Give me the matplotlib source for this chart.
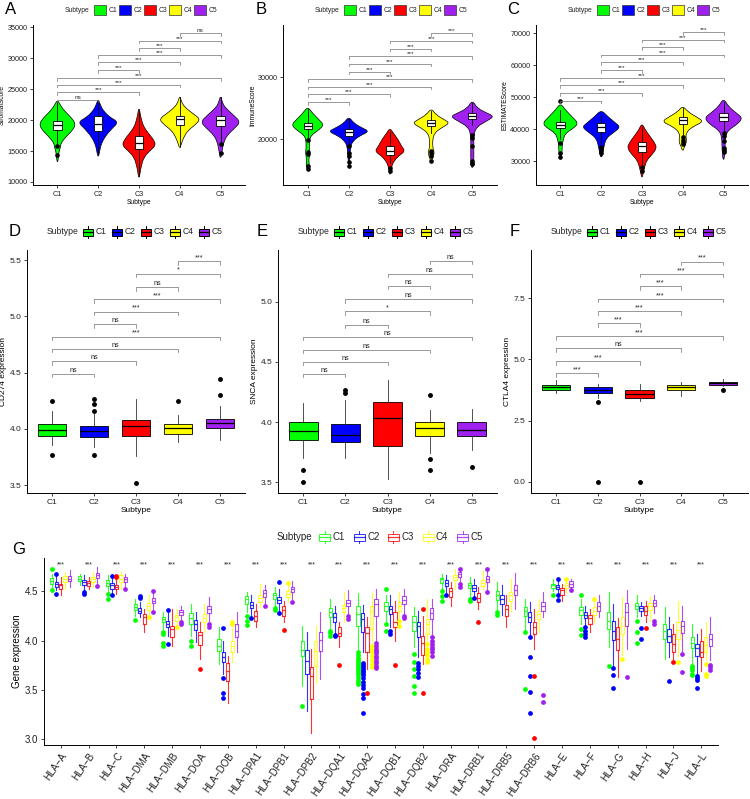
import numpy as np
import matplotlib.pyplot as plt
from matplotlib.patches import Rectangle, PathPatch
from matplotlib.path import Path
from matplotlib.lines import Line2D
from matplotlib.colors import to_rgba

plt.rcParams['font.family'] = ['Liberation Sans', 'DejaVu Sans']

subtypes = ['C1', 'C2', 'C3', 'C4', 'C5']
colors = ['#00FF00', '#0000FF', '#FF0000', '#FFFF00', '#A020F0']
pairs = [(1, 2), (1, 3), (1, 4), (1, 5), (2, 3), (2, 4), (2, 5), (3, 4), (3, 5), (4, 5)]

# ---------- A: StromalScore (violin) ----------
A_vy = [[12960, 14000, 14600, 15200, 15700, 16200, 17260, 18330, 19400, 20480, 21560, 22500, 23300],
        [14030, 14570, 15500, 16180, 17260, 18600, 19680, 20480, 21560, 22500, 23440],
        [10540, 11350, 12420, 14030, 15110, 15900, 16720, 17800, 18870, 19950, 21000, 22100],
        [15380, 16180, 17260, 18330, 19400, 20200, 21020, 22100, 23000, 23980],
        [13500, 15110, 16450, 17530, 18600, 19680, 20750, 22100, 23000, 23980]]
A_vw = [[0, .024, .033, .05, .08, .08, .2, .37, .45, .33, .16, .065, 0],
        [0, .025, .05, .08, .16, .33, .5, .28, .12, .05, 0],
        [0, .025, .05, .12, .28, .41, .37, .24, .12, .065, .03, 0],
        [0, .04, .1, .2, .41, .5, .33, .12, .04, 0],
        [0, .04, .08, .16, .33, .49, .33, .1, .04, 0]]
A_q1 = [18330, 18170, 15380, 19140, 18980]
A_med = [19250, 19410, 16290, 20150, 19950]
A_q3 = [19830, 20750, 17360, 20750, 20750]
A_lo = [16100, 14500, 11000, 15700, 16500]
A_hi = [22900, 23200, 21500, 23700, 23700]
A_out = [[15800, 14300], [], [], [], [16200, 14700]]
A_sig_y = [23280, 24520, 25700, 26830, 28120, 29360, 30540, 31670, 32850, 34090]
A_sig = ['ns', '***', '***', '***', '***', '***', '***', '***', '***', 'ns']

# ---------- B: ImmuneScore ----------
B_vy = [[14840, 15640, 16700, 17770, 18300, 19890, 20690, 21490, 22290, 23090, 24150, 25210],
        [15370, 17230, 18830, 19630, 20430, 21220, 21760, 22550, 23620],
        [13780, 15640, 16430, 17230, 18030, 18830, 19890, 20960, 21760],
        [16170, 17230, 17770, 18500, 19890, 20960, 21760, 22550, 23090, 23880, 24950],
        [15110, 16170, 18830, 20960, 22020, 22820, 23620, 24150, 24950, 26280]]
B_vw = [[0, .04, .025, .055, .04, .04, .1, .28, .39, .28, .12, 0],
        [0, .025, .04, .1, .24, .5, .33, .12, 0],
        [0, .04, .1, .2, .37, .28, .2, .08, 0],
        [0, .05, .08, .04, .035, .08, .24, .45, .33, .12, 0],
        [0, .04, .035, .04, .12, .33, .53, .37, .12, 0]]
B_q1 = [21600, 20530, 17500, 22020, 23240]
B_med = [22130, 21060, 18140, 22550, 23780]
B_q3 = [22660, 21600, 18830, 23090, 24260]
B_lo = [20200, 19300, 16200, 21000, 22200]
B_hi = [24800, 23300, 21200, 24500, 25800]
B_out = [[19800, 17900, 17600, 15600, 15200], [18800, 17700, 17300, 16300, 15700],
         [15400, 14900], [18000, 17700, 17200, 16400], [20700, 20200, 18800, 16400, 16200, 15900]]
B_sig_y = [25900, 27180, 28400, 29630, 30850, 32130, 33350, 34570, 35850, 37070]
B_sig = ['***'] * 10

# ---------- C: ESTIMATEScore ----------
C_vy = [[29790, 32400, 34490, 36580, 38670, 40230, 41800, 43890, 45980, 48070],
        [30830, 32400, 34490, 37100, 38670, 40550, 41800, 43890, 45980],
        [24570, 26140, 28220, 30310, 31880, 33970, 35530, 37620, 39710, 41800],
        [32920, 34490, 36060, 38670, 40750, 42320, 43890, 45460, 47230],
        [29270, 33440, 37620, 39710, 41280, 43370, 44930, 47020, 49630]]
C_vw = [[0, .04, .04, .065, .12, .32, .44, .28, .12, 0],
        [0, .04, .065, .12, .28, .47, .36, .16, 0],
        [0, .03, .065, .12, .24, .36, .32, .2, .08, 0],
        [0, .04, .1, .065, .24, .52, .32, .12, 0],
        [0, .04, .04, .12, .32, .47, .32, .12, 0]]
C_q1 = [40230, 39200, 32920, 41590, 42640]
C_med = [41280, 40550, 34700, 42840, 43680]
C_q3 = [42320, 42010, 36060, 43890, 44930]
C_lo = [37000, 35500, 29000, 38000, 39500]
C_hi = [46000, 44500, 40500, 46500, 48500]
C_out = [[48600, 35500, 32400, 31400], [34500, 33400, 32400], [28200, 27000],
         [37600, 36500, 35800, 35300], [38900, 37900, 36300, 34200, 33400, 32900]]
C_sig_y = [48800, 51200, 53600, 55900, 58410, 60810, 63210, 65610, 67910, 70310]
C_sig = ['***'] * 10

# ---------- D: CD274 ----------
D_q1 = [3.935, 3.929, 3.935, 3.958, 4.009]
D_med = [3.994, 3.982, 4.024, 4.009, 4.053]
D_q3 = [4.047, 4.024, 4.083, 4.047, 4.092]
D_lo = [3.86, 3.84, 3.76, 3.88, 3.905]
D_hi = [4.16, 4.13, 4.27, 4.12, 4.2]
D_out = [[4.25, 3.77], [4.264, 4.219, 4.157, 3.77], [3.52], [4.25], [4.44, 4.30]]
D_sig_y = [4.49, 4.60, 4.71, 4.82, 4.93, 5.04, 5.15, 5.26, 5.38, 5.49]
D_sig = ['ns', 'ns', 'ns', '***', 'ns', '***', '***', 'ns', '*', '***']

# ---------- E: SNCA ----------
E_q1 = [3.85, 3.838, 3.797, 3.886, 3.88]
E_med = [3.922, 3.894, 4.036, 3.947, 3.933]
E_q3 = [3.997, 3.983, 4.167, 4.0, 3.997]
E_lo = [3.70, 3.70, 3.53, 3.74, 3.77]
E_hi = [4.16, 4.18, 4.35, 4.10, 4.11]
E_out = [[3.6, 3.5], [4.27, 4.24], [], [4.226, 3.69, 3.6], [3.63]]
E_sig_y = [4.40, 4.50, 4.60, 4.71, 4.81, 4.92, 5.02, 5.13, 5.23, 5.34]
E_sig = ['ns', 'ns', 'ns', 'ns', 'ns', '*', 'ns', 'ns', 'ns', 'ns']

# ---------- F: CTLA4 ----------
F_q1 = [3.76, 3.63, 3.42, 3.74, 3.97]
F_med = [3.87, 3.76, 3.6, 3.86, 4.04]
F_q3 = [3.97, 3.87, 3.74, 3.97, 4.1]
F_lo = [3.63, 3.42, 3.29, 3.52, 3.9]
F_hi = [4.17, 4.01, 4.01, 4.1, 4.2]
F_out = [[], [3.25, 0.0], [0.0], [], [3.76]]
F_sig_y = [4.44, 4.93, 5.45, 5.95, 6.47, 6.97, 7.47, 7.99, 8.49, 9.0]
F_sig = ['***', '***', 'ns', '***', '***', '***', '***', '***', '***', '***']

# ---------- G: HLA genes ----------
genes = ['HLA-A', 'HLA-B', 'HLA-C', 'HLA-DMA', 'HLA-DMB', 'HLA-DOA', 'HLA-DOB', 'HLA-DPA1',
         'HLA-DPB1', 'HLA-DPB2', 'HLA-DQA1', 'HLA-DQA2', 'HLA-DQB1', 'HLA-DQB2', 'HLA-DRA',
         'HLA-DRB1', 'HLA-DRB5', 'HLA-DRB6', 'HLA-E', 'HLA-F', 'HLA-G', 'HLA-H', 'HLA-J', 'HLA-L']
g_sig = ['***'] * 24
g_q1 = [[4.578, 4.544, 4.520, 4.595, 4.602], [4.602, 4.568, 4.554, 4.595, 4.636],
        [4.554, 4.527, 4.520, 4.595, 4.595], [4.316, 4.279, 4.170, 4.316, 4.381],
        [4.187, 4.143, 4.034, 4.204, 4.262], [4.170, 4.112, 3.956, 4.187, 4.282],
        [3.898, 3.779, 3.592, 3.881, 4.034], [4.374, 4.333, 4.204, 4.391, 4.442],
        [4.425, 4.384, 4.255, 4.442, 4.493], [3.847, 3.660, 3.405, 3.745, 3.898],
        [4.238, 4.194, 4.051, 4.289, 4.357], [4.153, 4.085, 3.881, 4.119, 4.255],
        [4.306, 4.272, 4.136, 4.306, 4.374], [4.102, 4.034, 3.854, 4.068, 4.221],
        [4.588, 4.554, 4.442, 4.612, 4.646], [4.534, 4.507, 4.391, 4.554, 4.595],
        [4.418, 4.374, 4.255, 4.408, 4.466], [4.255, 4.187, 4.068, 4.221, 4.306],
        [4.534, 4.520, 4.466, 4.534, 4.544], [4.262, 4.228, 4.170, 4.262, 4.306],
        [4.119, 4.010, 3.908, 4.068, 4.153], [4.323, 4.306, 4.262, 4.316, 4.350],
        [4.017, 3.990, 3.888, 4.017, 4.078], [3.922, 3.847, 3.830, 3.881, 3.949]]
g_med = [[4.609, 4.575, 4.561, 4.629, 4.629], [4.629, 4.595, 4.582, 4.622, 4.663],
         [4.585, 4.561, 4.544, 4.629, 4.622], [4.347, 4.306, 4.238, 4.350, 4.408],
         [4.221, 4.170, 4.119, 4.238, 4.289], [4.228, 4.170, 4.058, 4.228, 4.323],
         [3.949, 3.830, 3.694, 3.949, 4.102], [4.425, 4.364, 4.255, 4.432, 4.486],
         [4.459, 4.418, 4.316, 4.476, 4.527], [3.908, 3.796, 3.636, 3.898, 4.010],
         [4.289, 4.238, 4.078, 4.330, 4.384], [4.272, 4.221, 4.078, 4.306, 4.374],
         [4.357, 4.323, 4.187, 4.357, 4.418], [4.194, 4.146, 3.976, 4.170, 4.282],
         [4.622, 4.585, 4.500, 4.646, 4.673], [4.568, 4.534, 4.432, 4.588, 4.622],
         [4.459, 4.425, 4.323, 4.459, 4.510], [4.306, 4.238, 4.136, 4.272, 4.357],
         [4.561, 4.544, 4.510, 4.561, 4.578], [4.313, 4.262, 4.228, 4.306, 4.357],
         [4.204, 4.102, 4.017, 4.153, 4.289], [4.357, 4.333, 4.306, 4.357, 4.384],
         [4.102, 4.051, 3.966, 4.112, 4.153], [3.976, 3.922, 3.888, 3.956, 4.017]]
g_q3 = [[4.636, 4.595, 4.578, 4.657, 4.657], [4.653, 4.616, 4.602, 4.646, 4.690],
        [4.612, 4.585, 4.568, 4.663, 4.646], [4.374, 4.330, 4.272, 4.381, 4.432],
        [4.245, 4.197, 4.153, 4.262, 4.313], [4.282, 4.211, 4.092, 4.272, 4.350],
        [4.017, 3.881, 3.772, 4.000, 4.170], [4.452, 4.398, 4.306, 4.459, 4.517],
        [4.483, 4.442, 4.350, 4.500, 4.544], [4.000, 3.908, 3.728, 4.000, 4.092],
        [4.333, 4.282, 4.136, 4.364, 4.415], [4.350, 4.282, 4.136, 4.357, 4.425],
        [4.391, 4.357, 4.289, 4.391, 4.452], [4.255, 4.187, 4.051, 4.221, 4.330],
        [4.636, 4.612, 4.534, 4.670, 4.697], [4.588, 4.561, 4.486, 4.612, 4.656],
        [4.500, 4.466, 4.364, 4.493, 4.561], [4.340, 4.289, 4.187, 4.306, 4.391],
        [4.578, 4.561, 4.534, 4.588, 4.602], [4.340, 4.289, 4.262, 4.340, 4.391],
        [4.289, 4.204, 4.136, 4.238, 4.384], [4.384, 4.357, 4.350, 4.384, 4.418],
        [4.170, 4.119, 4.068, 4.187, 4.204], [4.034, 3.966, 4.000, 4.034, 4.068]]
g_lo = [[4.530, 4.510, 4.466, 4.527, 4.544], [4.561, 4.510, 4.527, 4.544, 4.580],
        [4.490, 4.476, 4.476, 4.527, 4.544], [4.255, 4.238, 4.085, 4.270, 4.320],
        [4.120, 4.050, 3.949, 4.150, 4.210], [4.051, 3.983, 3.813, 4.085, 4.200],
        [3.762, 3.660, 3.371, 3.779, 3.881], [4.290, 4.240, 4.136, 4.340, 4.360],
        [4.350, 4.300, 4.187, 4.391, 4.425], [3.541, 3.286, 3.065, 3.575, 3.609],
        [4.119, 4.068, 3.932, 4.187, 4.270], [3.900, 3.881, 3.711, 3.980, 4.000],
        [4.187, 4.140, 4.000, 4.220, 4.270], [3.932, 3.830, 3.762, 3.980, 4.050],
        [4.510, 4.480, 4.354, 4.527, 4.600], [4.440, 4.440, 4.323, 4.527, 4.510],
        [4.310, 4.262, 4.136, 4.306, 4.323], [4.100, 4.050, 3.920, 4.085, 4.238],
        [4.500, 4.470, 4.408, 4.490, 4.520], [4.170, 4.150, 4.085, 4.187, 4.238],
        [3.932, 3.745, 3.626, 3.850, 3.915], [4.238, 4.255, 4.187, 4.204, 4.280],
        [3.813, 3.830, 3.813, 3.847, 3.900], [3.762, 3.660, 3.694, 3.800, 3.800]]
g_hi = [[4.680, 4.663, 4.646, 4.697, 4.714], [4.680, 4.663, 4.646, 4.697, 4.748],
        [4.663, 4.640, 4.630, 4.697, 4.680], [4.425, 4.391, 4.323, 4.459, 4.480],
        [4.289, 4.300, 4.323, 4.323, 4.350], [4.374, 4.289, 4.187, 4.374, 4.442],
        [4.136, 4.000, 3.847, 4.150, 4.289], [4.493, 4.459, 4.374, 4.578, 4.568],
        [4.544, 4.527, 4.408, 4.570, 4.602], [4.153, 4.085, 3.915, 4.153, 4.289],
        [4.425, 4.357, 4.187, 4.493, 4.510], [4.483, 4.364, 4.238, 4.483, 4.527],
        [4.459, 4.459, 4.408, 4.493, 4.527], [4.340, 4.300, 4.250, 4.425, 4.425],
        [4.680, 4.663, 4.595, 4.731, 4.720], [4.646, 4.622, 4.544, 4.714, 4.714],
        [4.595, 4.561, 4.459, 4.629, 4.687], [4.425, 4.391, 4.323, 4.425, 4.493],
        [4.629, 4.610, 4.578, 4.610, 4.629], [4.425, 4.357, 4.323, 4.400, 4.459],
        [4.493, 4.374, 4.228, 4.442, 4.510], [4.459, 4.398, 4.408, 4.452, 4.466],
        [4.340, 4.238, 4.170, 4.408, 4.350], [4.170, 4.068, 4.119, 4.187, 4.238]]
# (gene, subtype index, outlier values)
g_outliers = [
    ('HLA-A', 0, [4.731, 4.517]), ('HLA-A', 1, [4.68, 4.476]),
    ('HLA-B', 1, [4.49, 4.476]), ('HLA-B', 4, [4.56]),
    ('HLA-C', 0, [4.476, 4.425]), ('HLA-C', 1, [4.66, 4.459]), ('HLA-C', 2, [4.656, 4.646]), ('HLA-C', 4, [4.527]),
    ('HLA-DMA', 0, [4.214]), ('HLA-DMA', 1, [4.452, 4.432]), ('HLA-DMA', 3, [4.245]), ('HLA-DMA', 4, [4.50, 4.289]),
    ('HLA-DMB', 0, [4.092, 4.068, 3.976, 3.949]), ('HLA-DMB', 1, [4.316, 3.966]), ('HLA-DMB', 3, [4.136]),
    ('HLA-DMB', 4, [4.194, 4.17]),
    ('HLA-DOA', 0, [4.0, 3.949]), ('HLA-DOA', 2, [3.711]), ('HLA-DOA', 4, [4.17, 4.136]),
    ('HLA-DOB', 1, [4.126, 3.616, 3.473, 3.422]), ('HLA-DOB', 3, [4.194, 4.17]),
    ('HLA-DPA1', 0, [4.255, 4.204, 4.16]), ('HLA-DPA1', 1, [4.228]), ('HLA-DPA1', 4, [4.35]),
    ('HLA-DPB1', 0, [4.333, 4.313]), ('HLA-DPB1', 1, [4.595, 4.282]), ('HLA-DPB1', 2, [4.112]),
    ('HLA-DPB1', 3, [4.59]), ('HLA-DPB1', 4, [4.391]),
    ('HLA-DPB2', 0, [3.337]),
    ('HLA-DQA1', 0, [4.10, 4.078, 4.051]), ('HLA-DQA1', 1, [4.058, 4.044]), ('HLA-DQA1', 2, [3.752]),
    ('HLA-DQA1', 4, [4.255, 4.221]),
    ('HLA-DQA2', 0, [3.88, 3.85, 3.82, 3.80, 3.78, 3.76, 3.74, 3.72, 3.70, 3.68, 3.66, 3.63, 3.60, 3.58, 3.56]),
    ('HLA-DQA2', 1, [3.77, 3.75, 3.73, 3.71, 3.69, 3.67, 3.65, 3.62, 3.58, 3.55, 3.52, 3.46, 3.42, 3.27]),
    ('HLA-DQA2', 2, [3.473]),
    ('HLA-DQA2', 3, [3.95, 3.92, 3.88, 3.84, 3.80, 3.76, 3.73]),
    ('HLA-DQA2', 4, [3.98, 3.95, 3.92, 3.90, 3.87, 3.84, 3.82, 3.79, 3.77, 3.74, 3.72]),
    ('HLA-DQB1', 0, [4.527, 4.17, 4.10]), ('HLA-DQB1', 1, [4.10, 4.07]), ('HLA-DQB1', 2, [3.752]),
    ('HLA-DQB1', 3, [4.20, 4.15]), ('HLA-DQB1', 4, [4.255, 4.228]),
    ('HLA-DQB2', 0, [3.86, 3.78, 3.71, 3.643, 3.541, 3.473]), ('HLA-DQB2', 1, [3.772, 3.745, 3.711, 3.67, 3.626]),
    ('HLA-DQB2', 2, [4.323, 3.466]), ('HLA-DQB2', 3, [3.966, 3.92, 3.88, 3.85, 3.81, 3.78]),
    ('HLA-DQB2', 4, [4.034, 4.0, 3.97, 3.94, 3.92, 3.88, 3.847]),
    ('HLA-DRA', 0, [4.5, 4.452, 4.408]), ('HLA-DRA', 1, [4.466]), ('HLA-DRA', 4, [4.731, 4.578, 4.544]),
    ('HLA-DRB1', 0, [4.425, 4.408]), ('HLA-DRB1', 1, [4.432]), ('HLA-DRB1', 2, [4.187]), ('HLA-DRB1', 4, [4.731, 4.493]),
    ('HLA-DRB5', 0, [4.289, 4.262]),
    ('HLA-DRB6', 0, [4.085, 3.514]), ('HLA-DRB6', 1, [4.034, 3.83, 3.643, 3.48, 3.269]),
    ('HLA-DRB6', 2, [3.643, 3.014]), ('HLA-DRB6', 4, [3.446, 3.378]),
    ('HLA-E', 0, [4.466]), ('HLA-E', 1, [4.622, 4.459, 4.415]), ('HLA-E', 3, [4.622]), ('HLA-E', 4, [4.51]),
    ('HLA-F', 0, [4.459, 4.119, 4.061]), ('HLA-F', 1, [4.136, 4.1, 4.068, 4.034]), ('HLA-F', 3, [4.425]),
    ('HLA-G', 0, [3.738]), ('HLA-G', 1, [3.72, 3.653, 3.524]), ('HLA-G', 3, [3.813]), ('HLA-G', 4, [3.633]),
    ('HLA-H', 0, [4.204, 4.085, 3.976]), ('HLA-H', 1, [4.126, 4.017]), ('HLA-H', 2, [4.126]), ('HLA-H', 4, [4.204, 4.17]),
    ('HLA-J', 1, [3.592]), ('HLA-J', 2, [3.779]), ('HLA-J', 3, [3.786]), ('HLA-J', 4, [3.864, 3.684]),
    ('HLA-L', 0, [3.745, 3.72, 3.70, 3.66, 3.65]), ('HLA-L', 1, [3.643, 3.62, 3.60, 3.517]),
    ('HLA-L', 3, [3.762, 3.66, 3.643]), ('HLA-L', 4, [3.755, 3.73, 3.70]),
]

W, H = 750, 799
fig = plt.figure(figsize=(W / 100, H / 100), dpi=100)


def add_ax(l, r, t, b, fs):
    ax = fig.add_axes([l / W, 1 - b / H, (r - l) / W, (b - t) / H])
    ax.spines['top'].set_visible(False)
    ax.spines['right'].set_visible(False)
    ax.spines['left'].set_linewidth(0.7)
    ax.spines['bottom'].set_linewidth(0.7)
    ax.tick_params(length=2.5, width=0.6, pad=1.5, labelsize=fs, colors='#222222')
    return ax


def smooth_patch(xs, ys, **kw):
    pts = list(zip(xs, ys))
    n = len(pts)
    mids = [((pts[i][0] + pts[(i + 1) % n][0]) / 2, (pts[i][1] + pts[(i + 1) % n][1]) / 2) for i in range(n)]
    verts = [mids[-1]]
    codes = [Path.MOVETO]
    for i in range(n):
        verts += [pts[i], mids[i]]
        codes += [Path.CURVE3, Path.CURVE3]
    return PathPatch(Path(verts, codes), **kw)


def brackets(ax, ys, labels, tip, fs):
    for (a, b), y, lab in zip(pairs, ys, labels):
        ax.plot([a, a, b, b], [y - tip, y, y, y - tip], color='#707070', lw=0.5)
        ax.text((a + b) / 2, y, lab, ha='center', va='bottom', fontsize=fs, color='#222222')


def make_stats(q1, med, q3, lo, hi, out):
    return [dict(q1=q1[i], med=med[i], q3=q3[i], whislo=lo[i], whishi=hi[i], fliers=out[i]) for i in range(5)]


def violin_panel(ax, vy, vw, q1, med, q3, lo, hi, out, sig_y, sig, ylim, yticks, ylabel):
    for i in range(5):
        ys = np.array(vy[i], dtype=float)
        ws = np.array(vw[i])
        xs = np.concatenate([i + 1 + ws, (i + 1 - ws)[-2:0:-1]])
        yy = np.concatenate([ys, ys[-2:0:-1]])
        ax.add_patch(smooth_patch(xs, yy, fc=colors[i], ec='black', lw=0.5))
    ax.bxp(make_stats(q1, med, q3, lo, hi, out), positions=range(1, 6), widths=0.2,
           patch_artist=True, showcaps=False,
           boxprops=dict(facecolor='white', edgecolor='black', lw=0.6),
           medianprops=dict(color='black', lw=0.9),
           whiskerprops=dict(color='black', lw=0.6),
           flierprops=dict(marker='o', markersize=2.3, markerfacecolor='black', markeredgecolor='black'))
    brackets(ax, sig_y, sig, 0.016 * (ylim[1] - ylim[0]), 4.6)
    ax.set_xlim(0.4, 5.6)
    ax.set_ylim(ylim)
    ax.set_yticks(yticks)
    ax.set_yticklabels([str(v) for v in yticks])
    ax.set_xticks(range(1, 6))
    ax.set_xticklabels(subtypes)
    ax.set_xlabel('Subtype', fontsize=4.8, labelpad=1)
    ax.set_ylabel(ylabel, fontsize=4.8, labelpad=1)


def box_panel(ax, q1, med, q3, lo, hi, out, sig_y, sig, ylim, yticks, ylabel):
    ax.bxp(make_stats(q1, med, q3, lo, hi, out), positions=range(1, 6), widths=0.68,
           patch_artist=True, showcaps=False,
           boxprops=dict(edgecolor='black', lw=0.6),
           medianprops=dict(color='black', lw=0.9),
           whiskerprops=dict(color='#333333', lw=0.6),
           flierprops=dict(marker='o', markersize=2.5, markerfacecolor='black', markeredgecolor='black'))
    for patch, c in zip([p for p in ax.patches], colors):
        patch.set_facecolor(c)
    brackets(ax, sig_y, sig, 0.014 * (ylim[1] - ylim[0]), 5.2)
    ax.set_xlim(0.4, 5.6)
    ax.set_ylim(ylim)
    ax.set_yticks(yticks)
    ax.set_yticklabels(['%.1f' % v for v in yticks])
    ax.set_xticks(range(1, 6))
    ax.set_xticklabels(subtypes)
    ax.set_xlabel('Subtype', fontsize=6, labelpad=1)
    ax.set_ylabel(ylabel, fontsize=6, labelpad=2)


def legend_row(x_sub, x_key0, step, y, fs, kind, kw, kh):
    fig.text(x_sub / W, 1 - y / H, 'Subtype', fontsize=fs, va='center', ha='left', color='#222222')
    for i, (lab, c) in enumerate(zip(subtypes, colors)):
        xk = x_key0 + i * step
        y0 = 1 - (y + kh / 2) / H
        if kind == 'violin':
            fig.add_artist(Rectangle((xk / W, y0), kw / W, kh / H, transform=fig.transFigure,
                                     fc=c, ec='#333333', lw=0.5))
        else:
            ec = 'black' if kind == 'box' else to_rgba(c, 0.8)
            fc = c if kind == 'box' else 'white'
            xm = (xk + kw / 2) / W
            for ya, yb in [(y - kh / 2 - 2.5, y - kh / 2), (y + kh / 2, y + kh / 2 + 2.5)]:
                fig.add_artist(Line2D([xm, xm], [1 - ya / H, 1 - yb / H], transform=fig.transFigure,
                                      color=ec, lw=0.7))
            fig.add_artist(Rectangle((xk / W, y0), kw / W, kh / H, transform=fig.transFigure,
                                     fc=fc, ec=ec, lw=0.7))
            fig.add_artist(Line2D([xk / W, (xk + kw) / W], [1 - y / H] * 2, transform=fig.transFigure,
                                  color=ec, lw=0.9))
        fig.text((xk + kw + 2.5) / W, 1 - y / H, lab, fontsize=fs, va='center', ha='left', color='#222222')


# ---- top row ----
axA = add_ax(33, 245, 25, 185, 5.2)
violin_panel(axA, A_vy, A_vw, A_q1, A_med, A_q3, A_lo, A_hi, A_out, A_sig_y, A_sig,
             (9500, 35400), [10000, 15000, 20000, 25000, 30000, 35000], 'StromalScore')
axB = add_ax(283, 497, 25, 185, 5.2)
violin_panel(axB, B_vy, B_vw, B_q1, B_med, B_q3, B_lo, B_hi, B_out, B_sig_y, B_sig,
             (12580, 38390), [20000, 30000], 'ImmuneScore')
axC = add_ax(536, 748, 25, 185, 5.2)
violin_panel(axC, C_vy, C_vw, C_q1, C_med, C_q3, C_lo, C_hi, C_out, C_sig_y, C_sig,
             (22500, 72500), [30000, 40000, 50000, 60000, 70000], 'ESTIMATEScore')
for left in (33, 283, 536):
    legend_row(left + 32, left + 61, 25, 10, 4.9, 'violin', 12, 10)

# ---- middle row ----
axD = add_ax(27, 245, 250, 493, 6)
box_panel(axD, D_q1, D_med, D_q3, D_lo, D_hi, D_out, D_sig_y, D_sig,
          (3.43, 5.59), [3.5, 4.0, 4.5, 5.0, 5.5], 'CD274 expression')
axE = add_ax(278, 497, 250, 493, 6)
box_panel(axE, E_q1, E_med, E_q3, E_lo, E_hi, E_out, E_sig_y, E_sig,
          (3.41, 5.43), [3.5, 4.0, 4.5, 5.0], 'SNCA expression')
axF = add_ax(531, 748, 250, 493, 6)
box_panel(axF, F_q1, F_med, F_q3, F_lo, F_hi, F_out, F_sig_y, F_sig,
          (-0.45, 9.47), [0.0, 2.5, 5.0, 7.5], 'CTLA4 expression')
for left in (27, 278, 531):
    legend_row(left + 20, left + 56, 29, 232, 6.2, 'box', 10, 7)

# ---- bottom: G ----
axG = add_ax(44, 718, 558, 745, 7)
gx = np.arange(1, len(genes) + 1)
offs = [-0.32, -0.16, 0.0, 0.16, 0.32]
for k in range(5):
    stats = []
    for i, g in enumerate(genes):
        fl = [v for (gg, kk, vals) in g_outliers if gg == g and kk == k for v in vals]
        stats.append(dict(q1=g_q1[i][k], med=g_med[i][k], q3=g_q3[i][k],
                          whislo=g_lo[i][k], whishi=g_hi[i][k], fliers=fl))
    lc = to_rgba(colors[k], 0.8)
    axG.bxp(stats, positions=gx + offs[k], widths=0.12, showcaps=False,
            boxprops=dict(color=lc, lw=0.8), medianprops=dict(color=lc, lw=0.9),
            whiskerprops=dict(color=lc, lw=0.8),
            flierprops=dict(marker='o', markersize=2.4, markerfacecolor=colors[k],
                            markeredgecolor=colors[k]))
for i, s in enumerate(g_sig):
    axG.text(gx[i], 4.755, s, ha='center', va='baseline', fontsize=5, color='#222222')
axG.set_xlim(0.4, len(genes) + 0.6)
axG.set_ylim(2.94, 4.84)
axG.set_yticks([3.0, 3.5, 4.0, 4.5])
axG.set_yticklabels(['3.0', '3.5', '4.0', '4.5'])
axG.set_xticks(gx)
axG.set_xticklabels([g.replace('-', '\u2212') for g in genes], rotation=55, ha='right', va='top',
                    rotation_mode='anchor', fontsize=7)
axG.set_ylabel('Gene expression', fontsize=7, labelpad=2)
legend_row(277, 319, 34.5, 537, 7, 'outline', 11, 7)

# panel letters
for lab, x, y in [('A', 5, 9), ('B', 256, 9), ('C', 507, 9), ('D', 9, 232), ('E', 257, 232),
                  ('F', 510, 232), ('G', 12, 549)]:
    fig.text(x / W, 1 - y / H, lab, fontsize=12, va='center', ha='left')

fig.savefig('out.png', dpi=100)
